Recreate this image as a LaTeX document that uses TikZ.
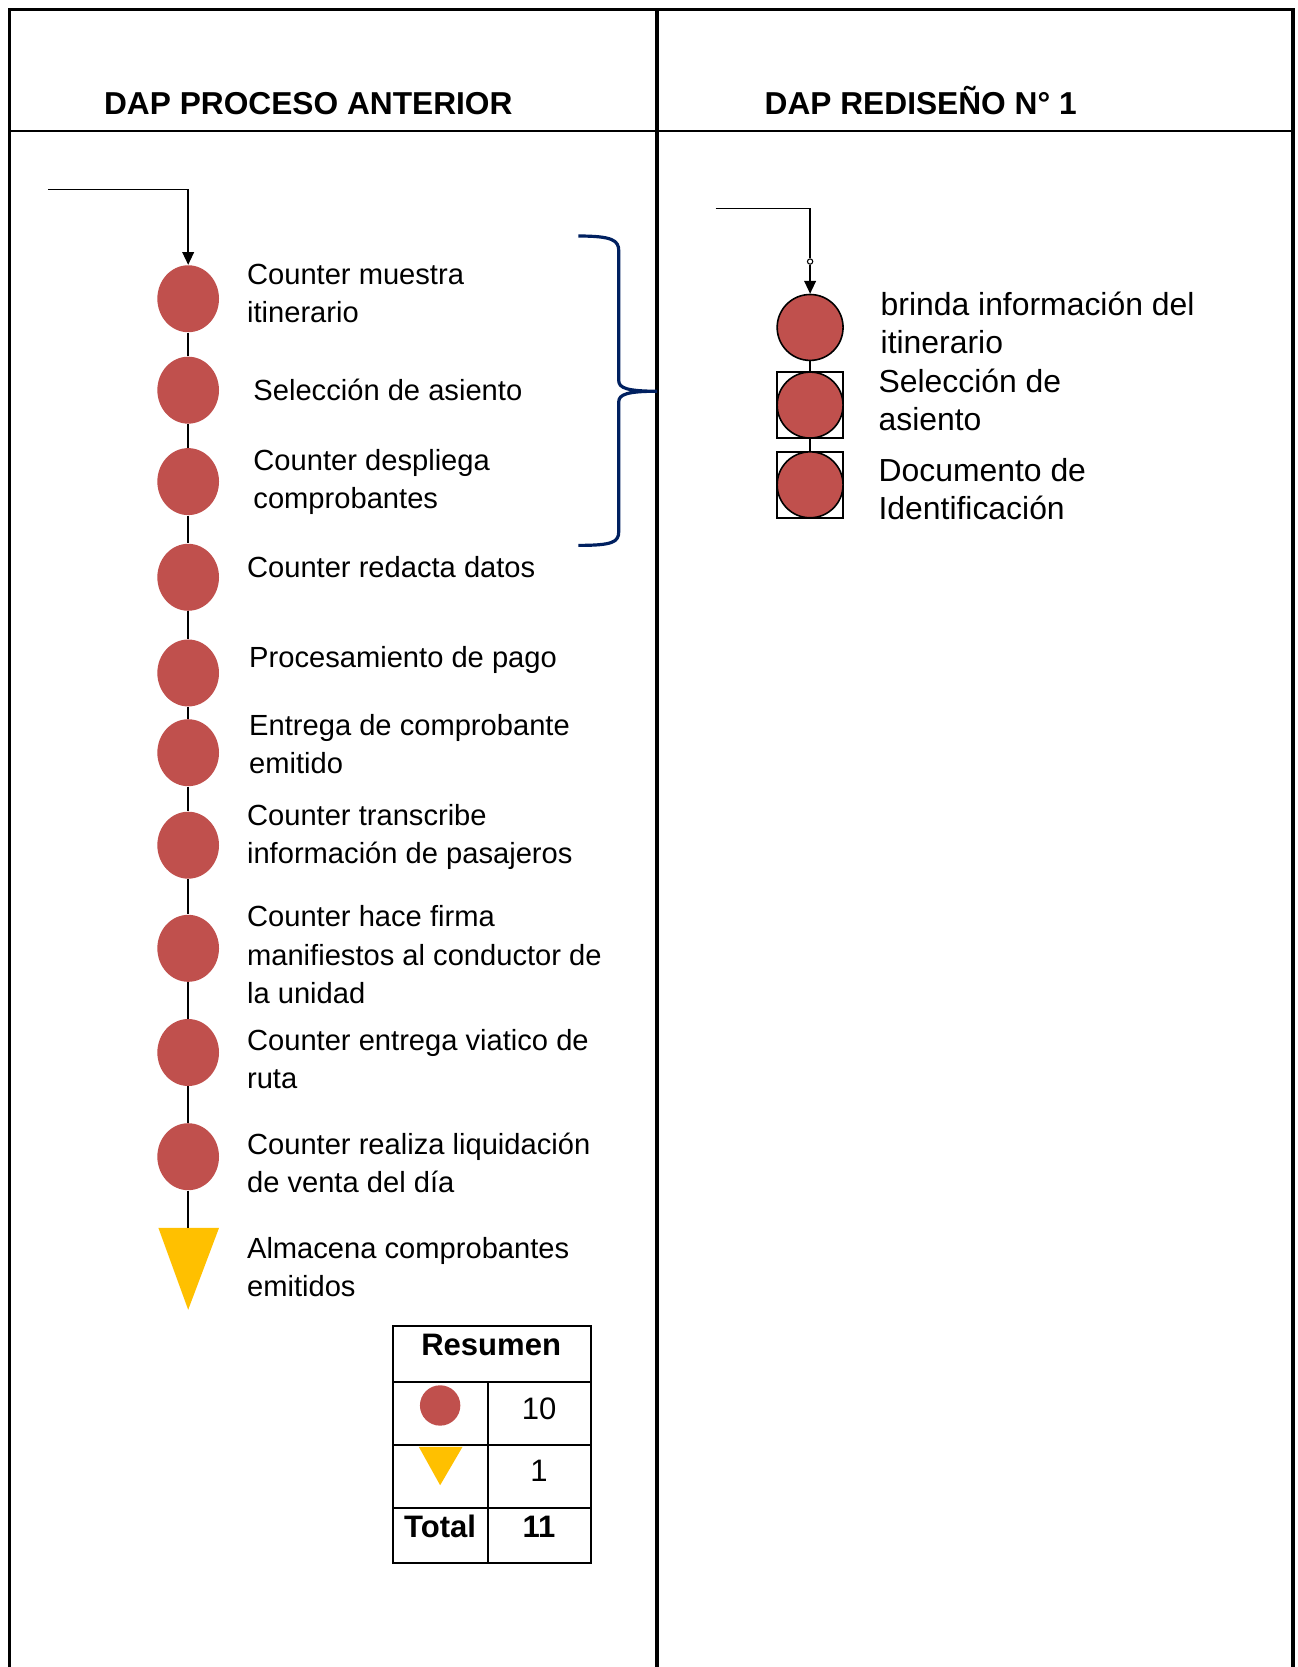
\documentclass[tikz,border=0pt]{standalone}
\usepackage{fontspec}
\setmainfont{Liberation Sans}
\usepackage{xcolor}
\usepackage{tikz}
\usetikzlibrary{arrows.meta, positioning, shapes.geometric}
\definecolor{opred}{HTML}{C0504D}
\definecolor{almac}{HTML}{FFC000}
\definecolor{bracenavy}{HTML}{002060}

\begin{document}
\begin{tikzpicture}[
          x=0.5pt, y=-0.5pt,
          frame/.style={line width=1.7pt},
          conn/.style={line width=0.65pt},
          tip/.style={-{Triangle[width=5.5pt,length=6pt]}},
          op/.style={ellipse, fill=opred, inner sep=0pt, minimum width=29pt, minimum height=31.5pt},
          opnew/.style={circle, draw, fill=opred, line width=0.75pt, inner sep=0pt, minimum size=31pt},
          opbox/.style={rectangle, draw, line width=0.75pt, inner sep=0pt, minimum size=31pt},
          lbl/.style={anchor=west, align=left, inner sep=0pt, font=\fontsize{13.7}{18}\selectfont},
          lblnew/.style={anchor=west, align=left, inner sep=0pt, font=\fontsize{15}{18}\selectfont},
          head/.style={inner sep=0pt, font=\fontsize{14.9}{18}\selectfont\bfseries},
          cell/.style={inner sep=0pt, font=\fontsize{14.6}{18}\selectfont},
          tab/.style={line width=0.95pt}
        ]
          \useasboundingbox (0,0) rectangle (1220,1568);

          % marco
          \draw[frame] (9,1568) -- (9,8.8) -- (1216,8.8) -- (1216,1568);
          \draw[frame] (618,8.8) -- (618,1568);
          \draw[line width=0.75pt] (9,123) -- (1216,123);
          \node[head] (h1) at (290,97) {DAP PROCESO ANTERIOR};
          \node[head] (h2) at (866,95) {DAP REDISEÑO N° 1};

          % proceso anterior
          \node[op] (c1) at (177,281) {};
          \node[op] (c2) at (177,367) {};
          \node[op] (c3) at (177,453) {};
          \node[op] (c4) at (177,543) {};
          \node[op] (c5) at (177,633) {};
          \node[op] (c6) at (177,708) {};
          \node[op] (c7) at (177,795) {};
          \node[op] (c8) at (177,892) {};
          \node[op] (c9) at (177,990) {};
          \node[op] (c10) at (177,1088) {};
          \fill[almac] (149,1155) -- (206,1155) -- (177,1232) -- cycle;
          \coordinate (t1) at (177,1155);
          \coordinate (inL) at (45,178);

          \draw[conn, tip] (inL) -| (c1);
          \draw[conn] (c1) -- (c2) (c2) -- (c3) (c3) -- (c4) (c4) -- (c5)
            (c5) -- (c6) (c6) -- (c7) (c7) -- (c8) (c8) -- (c9) (c9) -- (c10)
            (c10) -- (t1);

          \node[lbl] (l1) at (232,276) {Counter muestra\\itinerario};
          \node[lbl] (l2) at (238,367) {Selección de asiento};
          \node[lbl] (l3) at (238,453) {Counter despliega\\comprobantes};
          \node[lbl] (l4) at (232,533) {Counter redacta datos};
          \node[lbl] (l5) at (234,621) {Procesamiento de pago};
          \node[lbl] (l6) at (234,700) {Entrega de comprobante\\emitido};
          \node[lbl] (l7) at (232,787) {Counter transcribe\\información de pasajeros};
          \node[lbl] (l8) at (232,898) {Counter hace firma\\manifiestos al conductor de\\la unidad};
          \node[lbl] (l9) at (232,996) {Counter entrega viatico de\\ruta};
          \node[lbl] (l10) at (232,1094) {Counter realiza liquidación\\de venta del día};
          \node[lbl] (l11) at (232,1192) {Almacena comprobantes\\emitidos};

          % llave
          \draw[bracenavy, line width=1.5pt]
            (544,222) .. controls (576,222) and (582,226) .. (582,236) -- (582,358)
            .. controls (582,365) and (590,368) .. (618,368)
            .. controls (590,368) and (582,371) .. (582,378) -- (582,500)
            .. controls (582,510) and (576,513) .. (544,513);

          % resumen
          \draw[tab] (370,1247) rectangle (556,1470);
          \draw[tab] (370,1300) -- (556,1300) (370,1359) -- (556,1359)
            (370,1418) -- (556,1418) (459,1300) -- (459,1470);
          \node[cell, font=\fontsize{14.6}{18}\selectfont\bfseries] (res) at (462,1265) {Resumen};
          \node[circle, fill=opred, inner sep=0pt, minimum size=19pt] (sc) at (414,1322) {};
          \fill[almac] (394,1361) -- (435,1361) -- (414,1397) -- cycle;
          \node[cell] (n1) at (507,1325) {10};
          \node[cell] (n2) at (507,1383) {1};
          \node[cell, font=\fontsize{14.6}{18}\selectfont\bfseries] (tot) at (414,1436) {Total};
          \node[cell, font=\fontsize{14.6}{18}\selectfont\bfseries] (n3) at (507,1436) {11};

          % rediseño
          \node[opnew] (d1) at (762,308) {};
          \node[opbox] (b2) at (762,381) {};
          \node[opnew] (d2) at (762,381) {};
          \node[opbox] (b3) at (762,456) {};
          \node[opnew] (d3) at (762,456) {};
          \coordinate (inR) at (673,196);
          \node[circle, draw, fill=white, line width=0.5pt, inner sep=0pt, minimum size=2.5pt] (dot) at (762,246) {};

          \draw[conn] (inR) -| (dot);
          \draw[conn, tip] (dot) -- (d1);
          \draw[conn] (d1) -- (d2) (d2) -- (d3);

          \node[lblnew] (r1) at (828,304) {brinda información del\\itinerario};
          \node[lblnew] (r2) at (826,376) {Selección de\\asiento};
          \node[lblnew] (r3) at (826,460) {Documento de\\Identificación};
        \end{tikzpicture}
\end{document}
